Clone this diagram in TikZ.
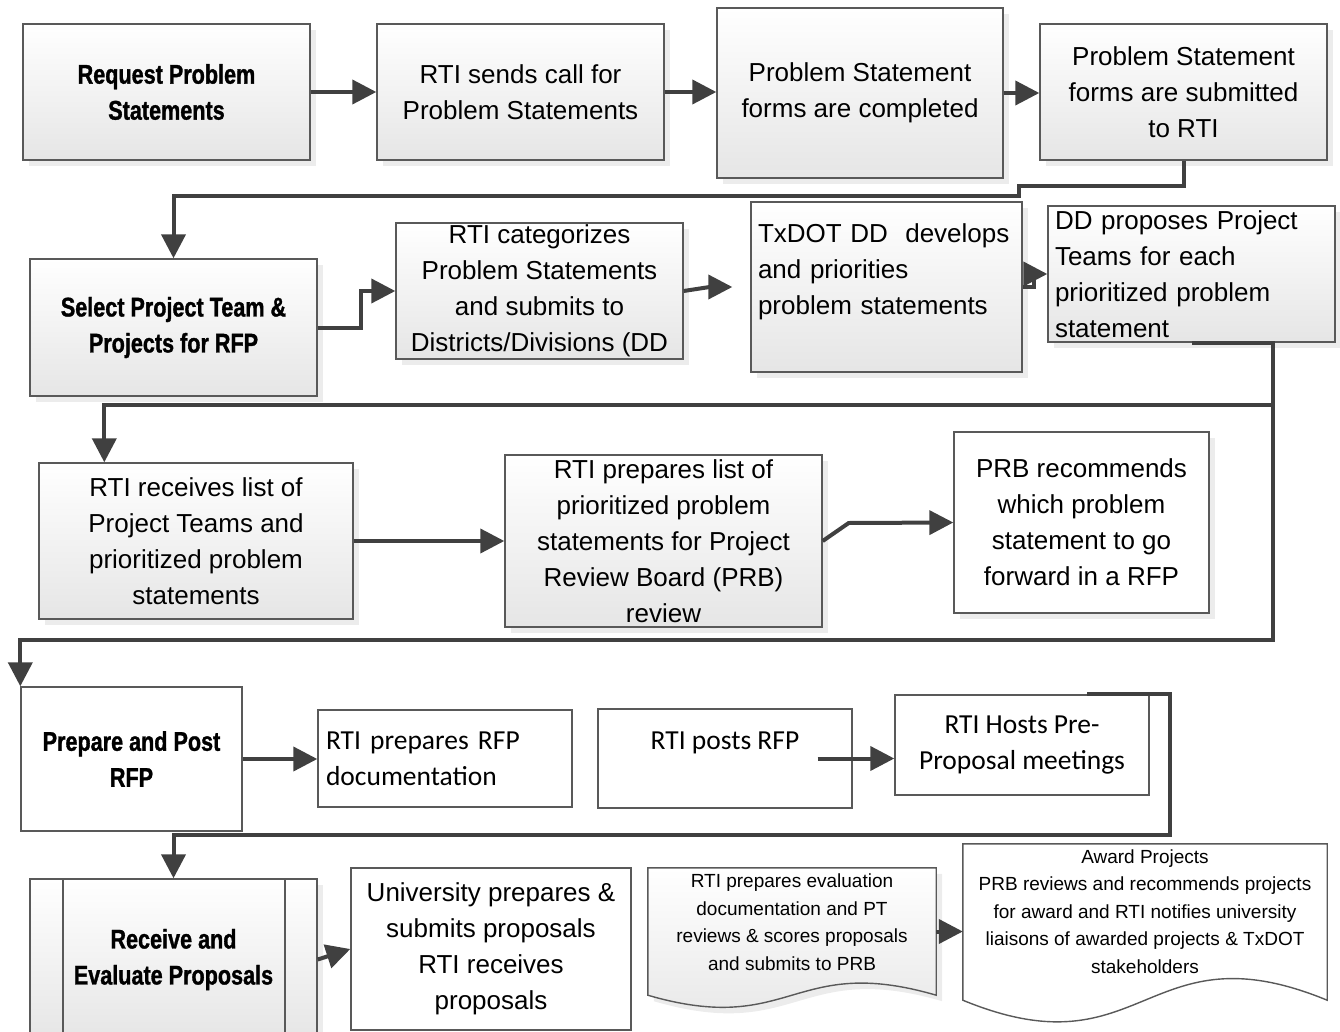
\documentclass[tikz,border=0pt]{standalone}
\usepackage{fontspec}
\setmainfont{Liberation Sans}
\newfontfamily\headfont{Liberation Sans}[FakeStretch=0.80,BoldFeatures={FakeBold=1.2}]
\newfontfamily\calfont{Carlito}
\usetikzlibrary{arrows.meta,shadows,backgrounds,calc}

\begin{document}
\begin{tikzpicture}[x=1pt, y=-1pt, >={Triangle[length=24pt,width=24pt]},
        box/.style={draw=black!65, line width=1.4pt, align=center, inner sep=0pt, font={\fontsize{26}{36}\selectfont}},
        proc/.style={box, top color=white, bottom color=gray!20, drop shadow={shadow xshift=6pt, shadow yshift=-6pt, fill=black!15}},
        plain/.style={box, fill=white},
        head/.style={font={\headfont\bfseries\fontsize{27}{36}\selectfont}},
        cal/.style={font={\calfont\fontsize{27.5}{36}\selectfont}},
        docbox/.style={align=center, inner sep=0pt, font={\fontsize{19}{27.5}\selectfont}},
        docline/.style={draw=black!65, line width=1.4pt},
        predef/.style={proc, path picture={\draw[black!65, line width=1.4pt]
            ([xshift=33pt]path picture bounding box.north west) -- ([xshift=33pt]path picture bounding box.south west)
            ([xshift=-32pt]path picture bounding box.north east) -- ([xshift=-32pt]path picture bounding box.south east);}},
        flow/.style={->, draw=black!75, line width=4pt}]
        \useasboundingbox (0,0) rectangle (1340,1032);

        % request problem statements
        \node[proc, head, minimum width=287pt, minimum height=136pt] (REQ) at (166.5,92) {Request Problem\\Statements};
        \node[proc, minimum width=287pt, minimum height=136pt] (CALL) at (520.5,92) {RTI sends call for\\Problem Statements};
        \node[proc, minimum width=286pt, minimum height=170pt] (FORM) at (860,93) {Problem Statement\\forms are completed};
        \node[proc, minimum width=287pt, minimum height=136pt] (SUB) at (1183.5,92) {Problem Statement\\forms are submitted\\to RTI};

        % select project team
        \node[proc, head, minimum width=287pt, minimum height=137pt] (SEL) at (173.5,327.5) {Select Project Team \&\\Projects for RFP};
        \node[proc, minimum width=287pt, minimum height=136pt] (CAT) at (539.5,291) {RTI categorizes\\Problem Statements\\and submits to\\Districts/Divisions (DD};
        \node[proc, align=left, text width=257pt, minimum width=271pt, minimum height=170pt] (DEV) at (886.5,287) {TxDOT DD\ \ develops\\and priorities\\problem statements\\ \mbox{}};
        \node[proc, align=left, text width=273pt, minimum width=287pt, minimum height=136pt] (PROP) at (1191.5,274) {DD proposes Project\\Teams for each\\prioritized problem\\statement};

        \node[proc, minimum width=314pt, minimum height=156pt] (LIST) at (196,541) {RTI receives list of\\Project Teams and\\prioritized problem\\statements};
        \node[proc, minimum width=317pt, minimum height=172pt] (PREP) at (663.5,541) {RTI prepares list of\\prioritized problem\\statements for Project\\Review Board (PRB)\\review};
        \node[proc, top color=white, bottom color=white, minimum width=255pt, minimum height=181pt] (REC) at (1081.5,522.5) {PRB recommends\\which problem\\statement to go\\forward in a RFP};

        % prepare and post RFP
        \node[plain, head, minimum width=221pt, minimum height=144pt] (POST) at (131.5,759) {Prepare and Post\\RFP};
        \node[plain, cal, align=left, text width=238pt, minimum width=254pt, minimum height=97pt] (DOC) at (445,758.5) {RTI prepares RFP\\documentation};
        \node[plain, cal, minimum width=254pt, minimum height=99pt] (RFP) at (725,758.5) {RTI posts RFP\\ \mbox{}};
        \node[plain, cal, minimum width=254pt, minimum height=100pt] (MEET) at (1022,745) {RTI Hosts Pre-\\Proposal meetings};

        % receive and evaluate proposals
        \node[predef, head, minimum width=287pt, minimum height=161pt] (EVAL) at (173.5,959.5) {Receive and\\Evaluate Proposals};
        \node[plain, minimum width=280pt, minimum height=162pt] (UNI) at (491,949) {University prepares \&\\submits proposals\\RTI receives\\proposals};
        \node[docbox, minimum width=288pt, minimum height=127pt] (SCORE) at (792,931.5) {RTI prepares evaluation\\documentation and PT\\reviews \& scores proposals\\and submits to PRB\\[-8.5pt]\mbox{}};
        \node[docbox, minimum width=364pt, minimum height=156pt] (AWD) at (1145,922) {Award Projects\\PRB reviews and recommends projects\\for award and RTI notifies university\\liaisons of awarded projects \& TxDOT\\stakeholders\\[-6.5pt]\mbox{}};

        \begin{scope}[on background layer]
        \path[docline, top color=white, bottom color=gray!20, drop shadow={shadow xshift=6pt, shadow yshift=-6pt, fill=black!15}]
            (SCORE.north west) -- (SCORE.north east) -- (SCORE.south east)
            .. controls ($(SCORE.south)+(0,-42)$) and ($(SCORE.south)+(0,42)$) .. (SCORE.south west) -- cycle;
        \path[docline, fill=white]
            (AWD.north west) -- (AWD.north east) -- (AWD.south east)
            .. controls ($(AWD.south)+(0,-75)$) and ($(AWD.south)+(0,75)$) .. (AWD.south west) -- cycle;
        \end{scope}

        \draw[flow] (REQ.east) -- (CALL.west);
        \draw[flow] (CALL.east) -- (CALL.east -| FORM.west);
        \draw[flow] (FORM.east) -- (FORM.east -| SUB.west);
        \draw[flow] (SUB.south) -- ++(0,25) -| ++(-164.5,10) -| (SEL.north);
        \draw[flow] (SEL.east) -- ++(43,0) |- (CAT.west);
        \draw[flow, shorten >=18pt] (CAT.east) -- ++(26,-4) -- (DEV.west);
        \draw[flow] (DEV.east) -- ++(11,0) |- (PROP.west);
        \coordinate (J) at (1273,405);
        \draw[flow] (PROP.south) -| (J) -| ([xshift=66pt]LIST.north west);
        \draw[flow] (J) -- ++(0,235) -| (POST.north west);
        \draw[flow] (LIST.east) -- (PREP.west);
        \draw[flow] (PREP.east) -- ++(26,-18) -- (REC.west);
        \draw[flow] (POST.east) -- (POST.east -| DOC.west);
        \draw[flow] ([xshift=-35pt]RFP.east) -- (RFP.east -| MEET.west);
        \draw[flow] ([xshift=65pt]MEET.north) -| ++(83,141) -| (EVAL.north);
        \draw[flow] (EVAL.east) -- (UNI.west);
        \draw[flow] (SCORE.east) -- (SCORE.east -| AWD.west);
    \end{tikzpicture}
\end{document}
